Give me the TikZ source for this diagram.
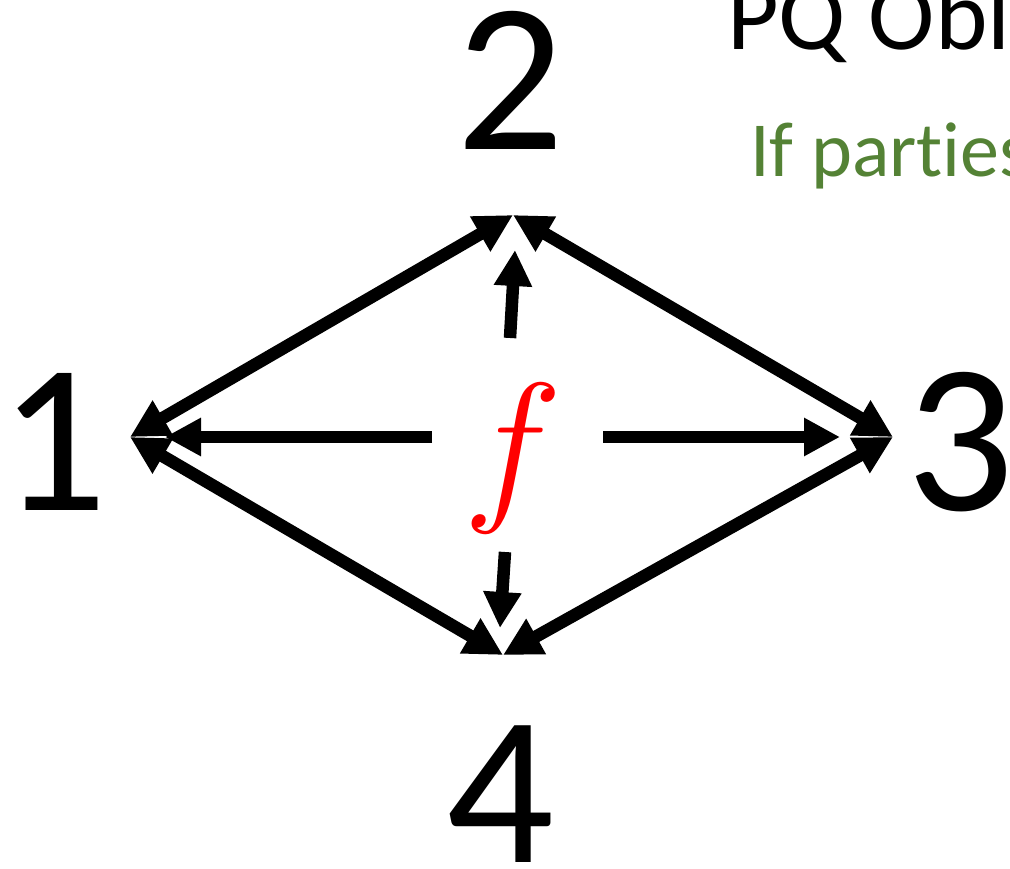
\RequirePackage{fix-cm}
\documentclass[tikz,border=0pt]{standalone}
\usepackage{fontspec}
\setmainfont{Carlito}[Ligatures=NoCommon]
\usetikzlibrary{arrows.meta}
\definecolor{pqgreen}{RGB}{84,130,53}
\tikzset{
  digit/.style={inner sep=0pt, anchor=base, font=\fontsize{213}{213}\selectfont},
  conn/.style={line width=12.5pt, {Triangle[length=38pt,width=38pt]}-{Triangle[length=38pt,width=38pt]}},
  fconn/.style={line width=12.5pt, -{Triangle[length=36pt,width=36pt]}},
}
\begin{document}
\begin{tikzpicture}[x=1pt,y=-1pt]
\useasboundingbox (0,0) rectangle (1010,869);
\clip (0,0) rectangle (1010,869);
% labels
\node[digit] (n1) at (53,510) {1};
\node[digit] (n2) at (510,150) {2};
\node[digit] (n3) at (960,510) {3};
\node[digit] (n4) at (500,862) {4};
\node[inner sep=0pt, anchor=base, text=red, font=\fontsize{168}{168}\selectfont] (f) at (513,500) {$f$};
\node[inner sep=0pt, anchor=base west, font=\fontsize{100}{100}\selectfont] (title) at (727,50) {PQ Obli};
\node[inner sep=0pt, anchor=base west, text=pqgreen, font=\fontsize{78}{78}\selectfont] (sub) at (750,177) {If parties};
% diamond vertices
\coordinate (v1) at (130,437);
\coordinate (v2) at (513,215);
\coordinate (v3) at (893,437);
\coordinate (v4) at (503,655);
\draw[conn] (v1) -- (v2);
\draw[conn] (v2) -- (v3);
\draw[conn] (v3) -- (v4);
\draw[conn] (v4) -- (v1);
% f arrows
\coordinate (fl) at (432,437);
\coordinate (flt) at (165,437);
\coordinate (fr) at (603,437);
\coordinate (frt) at (840,437);
\coordinate (fu) at (510,338);
\coordinate (fut) at (515,250);
\coordinate (fd) at (505,552);
\coordinate (fdt) at (500,628);
\draw[fconn] (fl) -- (flt);
\draw[fconn] (fr) -- (frt);
\draw[fconn] (fu) -- (fut);
\draw[fconn] (fd) -- (fdt);
\end{tikzpicture}
\end{document}
